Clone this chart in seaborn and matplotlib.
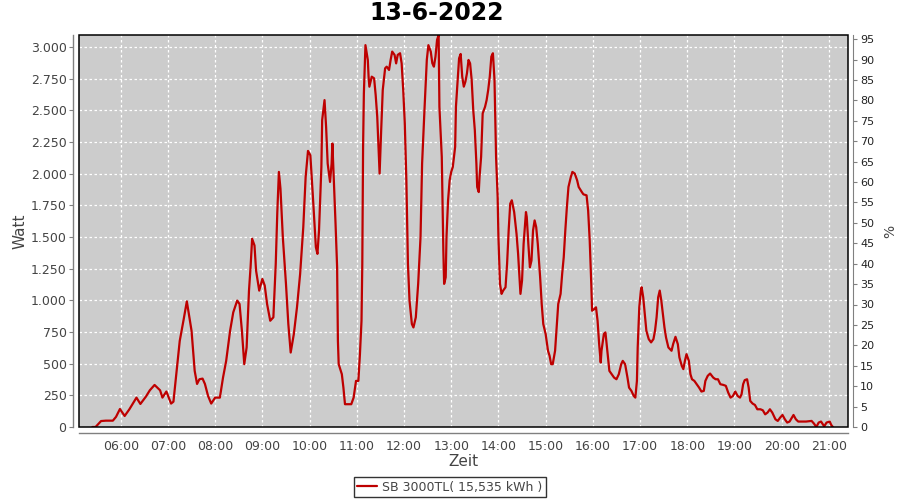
import numpy as np
import pandas as pd
import matplotlib
matplotlib.use("Agg")
import matplotlib.pyplot as plt
import matplotlib.dates as mdates
from matplotlib.ticker import FuncFormatter, MultipleLocator
from matplotlib.patches import Rectangle
import seaborn as sns

# --- Daten ---
DAY = "2022-06-13"
times = [
    "05:24", "05:28", "05:35", "05:41", "05:50", "05:54", "05:59", "06:05", "06:11", "06:20",
    "06:25", "06:32", "06:37", "06:43", "06:50", "06:53", "06:58", "07:04", "07:07", "07:11",
    "07:15", "07:20", "07:24", "07:30", "07:34", "07:37", "07:40", "07:44", "07:47", "07:51",
    "07:55", "08:00", "08:06", "08:10", "08:14", "08:19", "08:23", "08:28", "08:31", "08:34",
    "08:37", "08:40", "08:43", "08:45", "08:47", "08:50", "08:52", "08:56", "09:00", "09:03",
    "09:06", "09:10", "09:14", "09:17", "09:19", "09:21", "09:23", "09:26", "09:30", "09:33",
    "09:36", "09:40", "09:44", "09:48", "09:52", "09:55", "09:58", "10:01", "10:04", "10:08",
    "10:10", "10:12", "10:15", "10:16", "10:19", "10:21", "10:23", "10:26", "10:28", "10:29",
    "10:31", "10:33", "10:35", "10:36", "10:37", "10:41", "10:43", "10:45", "10:49", "10:53",
    "10:56", "10:59", "11:02", "11:04", "11:06", "11:07", "11:08", "11:09", "11:11", "11:14",
    "11:15", "11:16", "11:19", "11:22", "11:24", "11:26", "11:28", "11:29", "11:31", "11:33",
    "11:36", "11:38", "11:41", "11:43", "11:45", "11:48", "11:50", "11:52", "11:55", "11:57",
    "11:59", "12:01", "12:03", "12:05", "12:07", "12:10", "12:12", "12:15", "12:18", "12:21",
    "12:23", "12:26", "12:29", "12:31", "12:34", "12:36", "12:38", "12:40", "12:42", "12:44",
    "12:45", "12:48", "12:49", "12:50", "12:51", "12:53", "12:54", "12:56", "12:58", "13:00",
    "13:02", "13:05", "13:06", "13:08", "13:10", "13:12", "13:14", "13:16", "13:18", "13:20",
    "13:22", "13:24", "13:26", "13:28", "13:30", "13:32", "13:33", "13:35", "13:36", "13:38",
    "13:40", "13:43", "13:45", "13:47", "13:49", "13:51", "13:53", "13:55", "13:57", "13:59",
    "14:00", "14:02", "14:04", "14:06", "14:09", "14:11", "14:13", "14:15", "14:17", "14:20",
    "14:23", "14:25", "14:27", "14:28", "14:30", "14:32", "14:35", "14:36", "14:38", "14:40",
    "14:42", "14:44", "14:46", "14:48", "14:50", "14:53", "14:55", "14:57", "15:00", "15:03",
    "15:05", "15:07", "15:09", "15:12", "15:14", "15:16", "15:19", "15:21", "15:23", "15:25",
    "15:27", "15:29", "15:32", "15:34", "15:37", "15:40", "15:42", "15:46", "15:48", "15:52",
    "15:54", "15:56", "15:58", "15:59", "16:02", "16:04", "16:06", "16:08", "16:10", "16:11",
    "16:14", "16:16", "16:18", "16:21", "16:24", "16:27", "16:30", "16:33", "16:36", "16:38",
    "16:41", "16:44", "16:46", "16:49", "16:52", "16:54", "16:56", "16:57", "16:59", "17:01",
    "17:02", "17:04", "17:06", "17:08", "17:11", "17:14", "17:17", "17:19", "17:21", "17:23",
    "17:25", "17:27", "17:29", "17:31", "17:33", "17:36", "17:40", "17:42", "17:45", "17:48",
    "17:50", "17:53", "17:55", "17:57", "17:59", "18:02", "18:04", "18:06", "18:09", "18:12",
    "18:15", "18:18", "18:21", "18:23", "18:26", "18:29", "18:33", "18:36", "18:39", "18:42",
    "18:46", "18:49", "18:52", "18:55", "18:58", "19:01", "19:04", "19:07", "19:09", "19:11",
    "19:13", "19:16", "19:18", "19:20", "19:23", "19:26", "19:29", "19:33", "19:36", "19:39",
    "19:42", "19:45", "19:48", "19:52", "19:55", "19:58", "20:01", "20:04", "20:07", "20:10",
    "20:15", "20:18", "20:21", "20:31", "20:38", "20:41", "20:44", "20:47", "20:50", "20:54",
    "20:57", "21:01", "21:03", "21:05",
]
watt = [
    0, 0, 47, 50, 50, 80, 142, 87, 140, 232,
    182, 240, 290, 332, 290, 232, 280, 185, 200, 443,
    680, 850, 992, 760, 443, 340, 377, 382, 340, 245,
    185, 232, 232, 390, 522, 760, 905, 998, 971, 760,
    496, 628, 1077, 1261, 1486, 1433, 1235, 1077, 1169, 1117,
    971, 839, 866, 1288, 1697, 2014, 1882, 1499, 1130, 813,
    588, 734, 945, 1209, 1578, 1974, 2180, 2145, 1842, 1420,
    1367, 1552, 2053, 2423, 2581, 2370, 2080, 1935, 2080, 2238,
    1922, 1605, 1261, 681, 496, 417, 311, 180, 180, 180,
    232, 364, 364, 575, 839, 1288, 2212, 2634, 3015, 2898,
    2766, 2687, 2766, 2753, 2621, 2449, 2146, 2001, 2344, 2661,
    2832, 2845, 2819, 2898, 2964, 2938, 2871, 2938, 2951, 2871,
    2661, 2397, 1948, 1288, 998, 813, 786, 866, 1130, 1499,
    2080, 2502, 2900, 3015, 2964, 2872, 2845, 2924, 3056, 3095,
    2528, 2133, 1737, 1394, 1130, 1182, 1499, 1790, 1948, 2014,
    2053, 2212, 2528, 2713, 2911, 2945, 2766, 2687, 2726, 2792,
    2898, 2871, 2740, 2502, 2344, 2080, 1895, 1855, 1974, 2133,
    2476, 2528, 2581, 2661, 2766, 2924, 2951, 2740, 2133, 1816,
    1499, 1130, 1051, 1077, 1103, 1288, 1552, 1763, 1790, 1697,
    1526, 1367, 1156, 1051, 1156, 1446, 1697, 1658, 1446, 1261,
    1314, 1552, 1631, 1578, 1446, 1182, 971, 813, 734, 602,
    562, 496, 496, 602, 786, 971, 1051, 1209, 1341, 1552,
    1737, 1895, 1974, 2014, 2001, 1948, 1895, 1855, 1837, 1829,
    1710, 1473, 1130, 918, 932, 945, 839, 655, 509, 602,
    734, 747, 628, 443, 417, 390, 377, 417, 496, 522,
    496, 390, 311, 285, 245, 232, 364, 628, 945, 1077,
    1103, 1024, 892, 760, 694, 668, 694, 760, 866, 1024,
    1077, 998, 892, 786, 707, 628, 602, 654, 712, 654,
    549, 483, 457, 522, 575, 522, 417, 377, 364, 338,
    311, 280, 285, 364, 404, 422, 390, 377, 377, 338,
    332, 325, 272, 232, 245, 280, 245, 232, 259, 338,
    370, 377, 311, 206, 185, 174, 140, 140, 132, 100,
    114, 140, 114, 61, 48, 74, 95, 61, 35, 43,
    95, 61, 43, 43, 48, 27, 0, 35, 43, 5,
    35, 43, 16, 0,
]
series_name = "SB 3000TL( 15,535 kWh )"
title = "13-6-2022"
hour_ticks = [f"{h:02d}:00" for h in range(6, 22)]

df = pd.DataFrame({
    "Zeit": pd.to_datetime([f"{DAY} {t}" for t in times]),
    "Watt": watt,
})

# --- Stil ---
sns.set_style("white")
plt.rcParams["font.family"] = ["DejaVu Sans"]

LINE_RED = "#BE0000"
BG = "#CCCCCC"
AXIS_GRAY = "#808080"
TXT = "#444444"

fig = plt.figure(figsize=(9, 5), dpi=100)
ax = fig.add_axes([0.0878, 0.146, 0.8542, 0.784])
ax.set_facecolor(BG)

sns.lineplot(data=df, x="Zeit", y="Watt", ax=ax, color=LINE_RED, linewidth=1.6,
             label=series_name, legend=False)

ax.set_xlim(pd.Timestamp(f"{DAY} 05:07"), pd.Timestamp(f"{DAY} 21:24"))
ax.set_ylim(0, 3095)
ax.set_xticks(pd.to_datetime([f"{DAY} {t}" for t in hour_ticks]))
ax.xaxis.set_major_formatter(mdates.DateFormatter("%H:%M"))
ax.yaxis.set_major_locator(MultipleLocator(250))
ax.yaxis.set_major_formatter(FuncFormatter(lambda v, p: f"{int(v):,}".replace(",", ".")))

ax.grid(True, color="white", linestyle=(0, (2, 2)), linewidth=0.9)
ax.set_axisbelow(True)

# Achsen (JFreeChart-Stil, leicht versetzt)
for side in ["top", "right"]:
    ax.spines[side].set_visible(False)
for side in ["left", "bottom"]:
    ax.spines[side].set_position(("outward", 4))
    ax.spines[side].set_color(AXIS_GRAY)
    ax.spines[side].set_linewidth(1.0)
ax.tick_params(axis="both", direction="out", length=3, width=0.8, color=AXIS_GRAY,
               labelcolor=TXT, labelsize=9, pad=2)
ax.add_patch(Rectangle((0, 0), 1, 1, transform=ax.transAxes, fill=False,
                       edgecolor="black", linewidth=1.1, zorder=5, clip_on=False))

ax.set_xlabel("Zeit", fontsize=11, color=TXT, labelpad=1)
ax.set_ylabel("Watt", fontsize=11, color=TXT, labelpad=2)
fig.text(0.485, 0.973, title, fontsize=17, fontweight="bold", color="black",
         ha="center", va="center")

# rechte Achse in %
ax2 = ax.twinx()
ax2.set_ylim(0, 96)
ax2.yaxis.set_major_locator(MultipleLocator(5))
for side in ["top", "left", "bottom"]:
    ax2.spines[side].set_visible(False)
ax2.spines["right"].set_position(("outward", 4))
ax2.spines["right"].set_color(AXIS_GRAY)
ax2.tick_params(axis="y", direction="out", length=3, width=0.8, color=AXIS_GRAY,
                labelcolor="#222222", labelsize=8, pad=2)
ax2.set_ylabel("%", fontsize=10, color=TXT, labelpad=6, rotation=90)

# Legende unten
handles, labels = ax.get_legend_handles_labels()
leg = fig.legend(handles, labels, loc="center", bbox_to_anchor=(0.5, 0.026),
                 frameon=True, fancybox=False, fontsize=9, handlelength=1.6,
                 handletextpad=0.4, borderpad=0.3)
leg.get_frame().set_edgecolor("black")
leg.get_frame().set_linewidth(1.0)
for t in leg.get_texts():
    t.set_color(TXT)

plt.savefig("out.png", dpi=100)
plt.close()
